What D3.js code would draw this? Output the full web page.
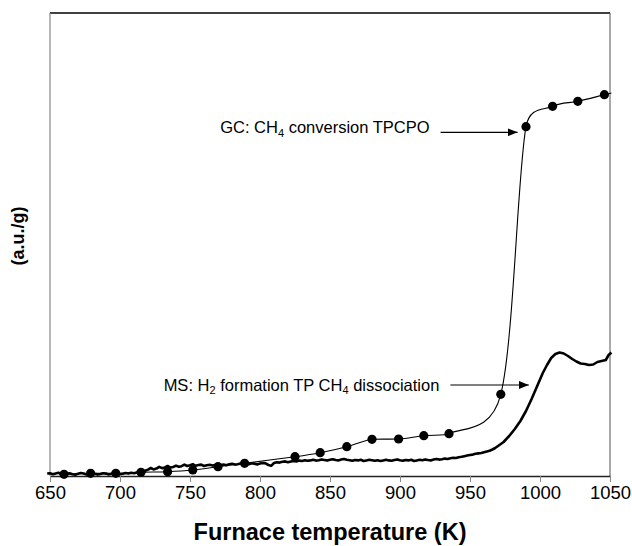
<!DOCTYPE html>
<html>
<head>
<meta charset="utf-8">
<script src="https://cdn.jsdelivr.net/npm/d3@7"></script>
<style>
  body { margin: 0; background: #fff; }
  svg { display: block; }
</style>
</head>
<body>
<svg id="chart" width="632" height="546"></svg>
<script>
// ---- data ----
const xTicks = [650, 700, 750, 800, 850, 900, 950, 1000, 1050];

// GC: CH4 conversion (markers) — temperature (K), signal (a.u./g)
const gcTemp = [660, 679, 697, 715, 734, 752, 770, 789, 825, 843, 862, 880, 899, 917, 935, 972, 990, 1009, 1027, 1046];
const gcVal  = [0.17, 0.27, 0.27, 0.37, 0.43, 0.60, 0.93, 1.27, 1.93, 2.33, 2.93, 3.67, 3.70, 4.03, 4.23, 8.17, 34.93, 36.97, 37.47, 38.13];
// curve continues a little past the last marker
const gcTailTemp = [1051];
const gcTailVal  = [38.3];

// MS: H2 formation (noisy trace)
const msTemp = [648,650,652,654,656,658,660,662,664,666,668,670,672,674,676,678,680,682,684,686,688,690,692,694,696,698,
  700,702,704,706,708,710,712,714,716,718,720,722,724,726,728,730,732,734,736,738,740,742,744,746,748,
  750,752,754,756,758,760,762,764,766,768,770,772,774,776,778,780,782,784,786,788,790,792,794,796,798,
  800,802,804,806,808,810,812,814,816,818,820,822,824,826,828,830,832,834,836,838,840,842,844,846,848,
  850,852,854,856,858,860,862,864,866,868,870,872,874,876,878,880,882,884,886,888,890,892,894,896,898,
  900,902,904,906,908,910,912,914,916,918,920,922,924,926,928,930,932,934,936,938,940,942,944,946,948,
  950,952,954,956,958,960,962,964,966,968,970,974,978,982,986,990,994,998,1002,1005,1008,1011,1014,1017,
  1020,1023,1026,1029,1032,1035,1038,1041,1044,1047,1049,1051];
const msVal = [0.25,0.28,0.18,0.26,0.32,0.20,0.14,0.22,0.28,0.18,0.12,0.22,0.30,0.24,0.16,0.26,0.32,0.22,0.14,0.20,0.28,0.24,0.16,0.22,0.32,0.26,
  0.18,0.22,0.30,0.24,0.32,0.28,0.36,0.40,0.46,0.52,0.64,0.80,0.66,0.74,0.92,0.78,0.86,1.00,0.84,0.90,1.04,0.92,0.98,1.14,1.00,
  1.08,1.18,1.02,1.10,1.14,1.00,1.08,1.12,1.04,1.10,1.16,1.10,1.14,1.08,1.18,1.22,1.14,1.18,1.26,1.20,1.24,1.18,1.28,1.22,1.16,
  1.24,1.30,1.26,1.10,1.02,1.30,1.38,1.34,1.42,1.46,1.38,1.44,1.50,1.46,1.54,1.50,1.58,1.52,1.56,1.62,1.54,1.58,1.66,1.60,1.54,
  1.62,1.68,1.60,1.56,1.64,1.70,1.62,1.58,1.52,1.60,1.56,1.62,1.50,1.56,1.62,1.58,1.52,1.58,1.50,1.56,1.62,1.56,1.52,1.60,1.66,
  1.58,1.52,1.60,1.56,1.62,1.50,1.56,1.62,1.58,1.66,1.60,1.56,1.64,1.70,1.64,1.68,1.74,1.70,1.78,1.82,1.80,1.88,1.92,1.98,2.04,
  2.10,2.14,2.22,2.26,2.30,2.38,2.45,2.52,2.65,2.80,3.00,3.40,4.00,4.70,5.50,6.50,7.70,9.00,10.30,11.10,11.80,12.20,12.35,12.25,
  12.00,11.70,11.45,11.25,11.20,11.10,11.15,11.40,11.50,11.60,12.10,12.35];

// annotations: arrow start/end temperature, level
const gcNoteTemp = [929, 984];
const gcNoteVal = 34.37;
const msNoteTemp = [936, 992];
const msNoteVal = 9.1;

// ---- layout ----
const svg = d3.select("#chart");
const mLeft = 50, mRight = 610, mTop = 13, mBottom = 476;
const FONT = "Liberation Sans, Arial, sans-serif";

const x = d3.scaleLinear().domain([650, 1050]).range([mLeft, mRight]);
const y = d3.scaleLinear().domain([0, 46.3]).range([mBottom, mTop]);

const gc = gcTemp.map((t, i) => [t, gcVal[i]]);
const gcLine = gc.concat(gcTailTemp.map((t, i) => [t, gcTailVal[i]]));
const ms = msTemp.map((t, i) => [t, msVal[i]]);

// Spreadsheet-style smoothing: Catmull-Rom Bezier whose control points are
// kept inside each segment's y-range (no overshoot).
function SmoothCurve(context) { this._context = context; }
SmoothCurve.prototype = {
  areaStart() { this._line = 0; },
  areaEnd() { this._line = NaN; },
  lineStart() { this._pts = []; },
  point(px, py) { this._pts.push([+px, +py]); },
  lineEnd() {
    const p = this._pts, c = this._context, n = p.length;
    if (!n) return;
    c.moveTo(p[0][0], p[0][1]);
    for (let i = 0; i < n - 1; i++) {
      const p0 = p[Math.max(i - 1, 0)], p1 = p[i], p2 = p[i + 1], p3 = p[Math.min(i + 2, n - 1)];
      let d1 = [(p2[0] - p0[0]) / 6, (p2[1] - p0[1]) / 6];
      let d2 = [(p3[0] - p1[0]) / 6, (p3[1] - p1[1]) / 6];
      const lo = Math.min(p1[1], p2[1]), hi = Math.max(p1[1], p2[1]);
      const fit = (base, d, sgn) => {
        const ty = base[1] + sgn * d[1];
        let k = 1;
        if (ty < lo && d[1] !== 0) k = Math.abs((lo - base[1]) / d[1]);
        if (ty > hi && d[1] !== 0) k = Math.abs((hi - base[1]) / d[1]);
        return [d[0] * k, d[1] * k];
      };
      d1 = fit(p1, d1, 1);
      d2 = fit(p2, d2, -1);
      c.bezierCurveTo(p1[0] + d1[0], p1[1] + d1[1], p2[0] - d2[0], p2[1] - d2[1], p2[0], p2[1]);
    }
  }
};
const smoothCurve = ctx => new SmoothCurve(ctx);

// frame
svg.append("line").attr("x1", mLeft).attr("x2", mRight).attr("y1", mTop).attr("y2", mTop)
  .attr("stroke", "#000").attr("stroke-width", 1.5);
svg.append("line").attr("x1", mRight).attr("x2", mRight).attr("y1", mTop).attr("y2", mBottom)
  .attr("stroke", "#555").attr("stroke-width", 1);
svg.append("line").attr("x1", mLeft).attr("x2", mLeft).attr("y1", mTop).attr("y2", mBottom)
  .attr("stroke", "#888").attr("stroke-width", 1.2);

// x axis
const xAxis = d3.axisBottom(x).tickValues(xTicks).tickSize(6).tickSizeOuter(0).tickPadding(4)
  .tickFormat(d3.format("d"));
const gx = svg.append("g").attr("transform", `translate(0,${mBottom})`).call(xAxis);
gx.select(".domain").attr("stroke", "#222").attr("stroke-width", 1.3);
gx.selectAll(".tick line").attr("stroke", "#888");
gx.selectAll(".tick text").attr("fill", "#000")
  .style("font-family", FONT).style("font-size", "18.5px");

// axis titles
svg.append("text").attr("x", 330).attr("y", 540).attr("text-anchor", "middle")
  .style("font-family", FONT).style("font-size", "23.5px")
  .style("font-weight", "bold").text("Furnace temperature (K)");
svg.append("text").attr("transform", "translate(24,236) rotate(-90)").attr("text-anchor", "middle")
  .style("font-family", FONT).style("font-size", "18px")
  .style("font-weight", "bold").text("(a.u./g)");

// MS trace
svg.append("path").datum(ms)
  .attr("fill", "none").attr("stroke", "#000").attr("stroke-width", 2.6).attr("stroke-linejoin", "round")
  .attr("d", d3.line().x(d => x(d[0])).y(d => y(d[1])));

// GC smoothed line + markers
svg.append("path").datum(gcLine)
  .attr("fill", "none").attr("stroke", "#000").attr("stroke-width", 1.1)
  .attr("d", d3.line().x(d => x(d[0])).y(d => y(d[1])).curve(smoothCurve));
svg.append("g").selectAll("circle").data(gc).join("circle")
  .attr("cx", d => x(d[0])).attr("cy", d => y(d[1])).attr("r", 4.6).attr("fill", "#000");

// annotations
const defs = svg.append("defs");
defs.append("marker").attr("id", "arr").attr("viewBox", "0 0 10 8").attr("refX", 10).attr("refY", 4)
  .attr("markerWidth", 10).attr("markerHeight", 8).attr("markerUnits", "userSpaceOnUse").attr("orient", "auto")
  .append("path").attr("d", "M0,0 L10,4 L0,8 Z").attr("fill", "#000");

function note(parts, tStart, tEnd, val, baseOff) {
  const yy = y(val);
  svg.append("line").attr("x1", x(tStart)).attr("x2", x(tEnd)).attr("y1", yy).attr("y2", yy)
    .attr("stroke", "#000").attr("stroke-width", 1.2).attr("marker-end", "url(#arr)");
  const t = svg.append("text").attr("x", x(tStart) - 11).attr("y", yy + baseOff).attr("text-anchor", "end")
    .style("font-family", FONT).style("font-size", "16.5px");
  parts.forEach(p => {
    if (p.sub) {
      t.append("tspan").attr("dy", 3.5).style("font-size", "11px").text(p.s);
    } else {
      t.append("tspan").attr("dy", p.after ? -3.5 : 0).text(p.s);
    }
  });
}
note([{s: "GC: CH"}, {s: "4", sub: true}, {s: " conversion TPCPO", after: true}], gcNoteTemp[0], gcNoteTemp[1], gcNoteVal, 1);
note([{s: "MS: H"}, {s: "2", sub: true}, {s: " formation TP CH", after: true}, {s: "4", sub: true}, {s: " dissociation", after: true}],
     msNoteTemp[0], msNoteTemp[1], msNoteVal, 5.5);
</script>
</body>
</html>
